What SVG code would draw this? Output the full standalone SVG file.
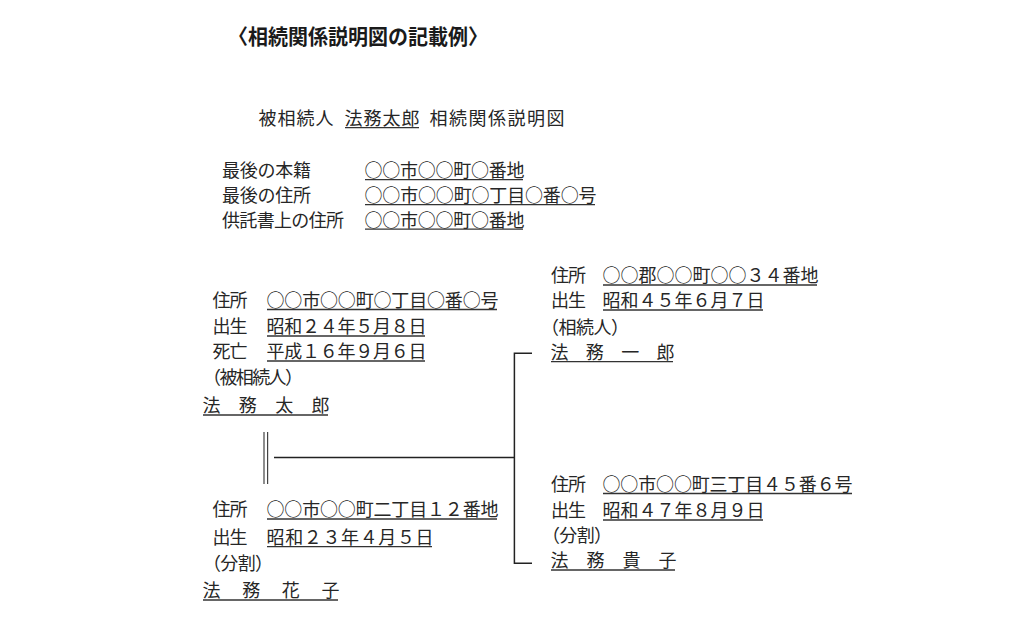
<svg xmlns="http://www.w3.org/2000/svg" width="1024" height="633" viewBox="0 0 1024 633">
  <style>
    .t { font-family: "Noto Sans CJK JP", "Noto Sans", sans-serif; font-size: 18px; fill: #262626; }
    .h { font-family: "Noto Sans CJK JP", "Noto Sans", sans-serif; font-size: 21px; font-weight: bold; fill: #1a1a1a; }
    .u { stroke: #333333; stroke-width: 1.3; fill: none; }
    .c { stroke: #222222; stroke-width: 1.5; fill: none; }
    .d { stroke: #444444; stroke-width: 1.2; fill: none; }
  </style>
  <rect width="1024" height="633" fill="#ffffff"/>

  <g id="title">
    <text class="h" x="228" y="44" textLength="260" lengthAdjust="spacingAndGlyphs">〈相続関係説明図の記載例〉</text>
  </g>

  <g id="heading">
    <text class="t" x="258.5" y="124.5" textLength="75">被相続人</text>
    <text class="t" x="344.5" y="124.5" textLength="75">法務太郎</text>
    <line class="u" x1="345" y1="127.7" x2="419" y2="127.7"/>
    <text class="t" x="429.5" y="124.5" textLength="135">相続関係説明図</text>
  </g>

  <g id="decedent-info">
    <text class="t" x="222" y="177" textLength="89">最後の本籍</text>
    <text class="t" x="364.5" y="177" textLength="160">○○市○○町○番地</text>
    <line class="u" x1="365" y1="179.6" x2="523" y2="179.6"/>
    <text class="t" x="222" y="202" textLength="89">最後の住所</text>
    <text class="t" x="364.5" y="202" textLength="232">○○市○○町○丁目○番○号</text>
    <line class="u" x1="365" y1="204.6" x2="595" y2="204.6"/>
    <text class="t" x="222" y="226.5" textLength="122">供託書上の住所</text>
    <text class="t" x="364.5" y="226.5" textLength="160">○○市○○町○番地</text>
    <line class="u" x1="365" y1="229.2" x2="523" y2="229.2"/>
  </g>

  <g id="person-taro">
    <text class="t" x="212.5" y="306.5" textLength="35">住所</text>
    <text class="t" x="266.5" y="306.5" textLength="232">○○市○○町○丁目○番○号</text>
    <line class="u" x1="267" y1="309.5" x2="497" y2="309.5"/>
    <text class="t" x="212.5" y="333" textLength="35">出生</text>
    <text class="t" x="266.5" y="333" textLength="160">昭和２４年５月８日</text>
    <line class="u" x1="267" y1="336" x2="425" y2="336"/>
    <text class="t" x="212.5" y="358" textLength="35">死亡</text>
    <text class="t" x="266.5" y="358" textLength="160">平成１６年９月６日</text>
    <line class="u" x1="267" y1="361" x2="425" y2="361"/>
    <text class="t" x="203" y="383.5" textLength="100">（被相続人）</text>
    <text class="t" x="202.5" y="411.5" textLength="127">法　務　太　郎</text>
    <line class="u" x1="203" y1="415" x2="328" y2="415"/>
  </g>

  <g id="person-ichiro">
    <text class="t" x="551" y="282" textLength="35">住所</text>
    <text class="t" x="602.5" y="282" textLength="216">○○郡○○町○○３４番地</text>
    <line class="u" x1="603" y1="285" x2="817" y2="285"/>
    <text class="t" x="551" y="307" textLength="35">出生</text>
    <text class="t" x="602.5" y="307" textLength="162">昭和４５年６月７日</text>
    <line class="u" x1="603" y1="310" x2="763" y2="310"/>
    <text class="t" x="541" y="333.5" textLength="88">（相続人）</text>
    <text class="t" x="550.5" y="358.5" textLength="124">法　務　一　郎</text>
    <line class="u" x1="551" y1="361.6" x2="673" y2="361.6"/>
  </g>

  <g id="person-hanako">
    <text class="t" x="212.5" y="516" textLength="35">住所</text>
    <text class="t" x="266.5" y="516" textLength="232">○○市○○町二丁目１２番地</text>
    <line class="u" x1="267" y1="519" x2="497" y2="519"/>
    <text class="t" x="212.5" y="543.5" textLength="35">出生</text>
    <text class="t" x="266.5" y="543.5" textLength="167">昭和２３年４月５日</text>
    <line class="u" x1="267" y1="546.6" x2="432" y2="546.6"/>
    <text class="t" x="203" y="569.5" textLength="70">（分割）</text>
    <text class="t" x="202.5" y="597" textLength="137">法　務　花　子</text>
    <line class="u" x1="203" y1="600" x2="338" y2="600"/>
  </g>

  <g id="person-takako">
    <text class="t" x="551" y="490.5" textLength="35">住所</text>
    <text class="t" x="602.5" y="490.5" textLength="250">○○市○○町三丁目４５番６号</text>
    <line class="u" x1="603" y1="493.5" x2="852" y2="493.5"/>
    <text class="t" x="551" y="517" textLength="35">出生</text>
    <text class="t" x="602.5" y="517" textLength="162">昭和４７年８月９日</text>
    <line class="u" x1="603" y1="520" x2="763" y2="520"/>
    <text class="t" x="542" y="542" textLength="70">（分割）</text>
    <text class="t" x="550.5" y="567" textLength="126">法　務　貴　子</text>
    <line class="u" x1="551" y1="570" x2="675" y2="570"/>
  </g>

  <g id="connectors">
    <line class="d" x1="264" y1="432" x2="264" y2="484"/>
    <line class="d" x1="267.6" y1="432" x2="267.6" y2="484"/>
    <line class="c" x1="274" y1="457.6" x2="514.4" y2="457.6"/>
    <path class="c" d="M532,353.3 H514.4 V563.3 H532"/>
  </g>
</svg>
